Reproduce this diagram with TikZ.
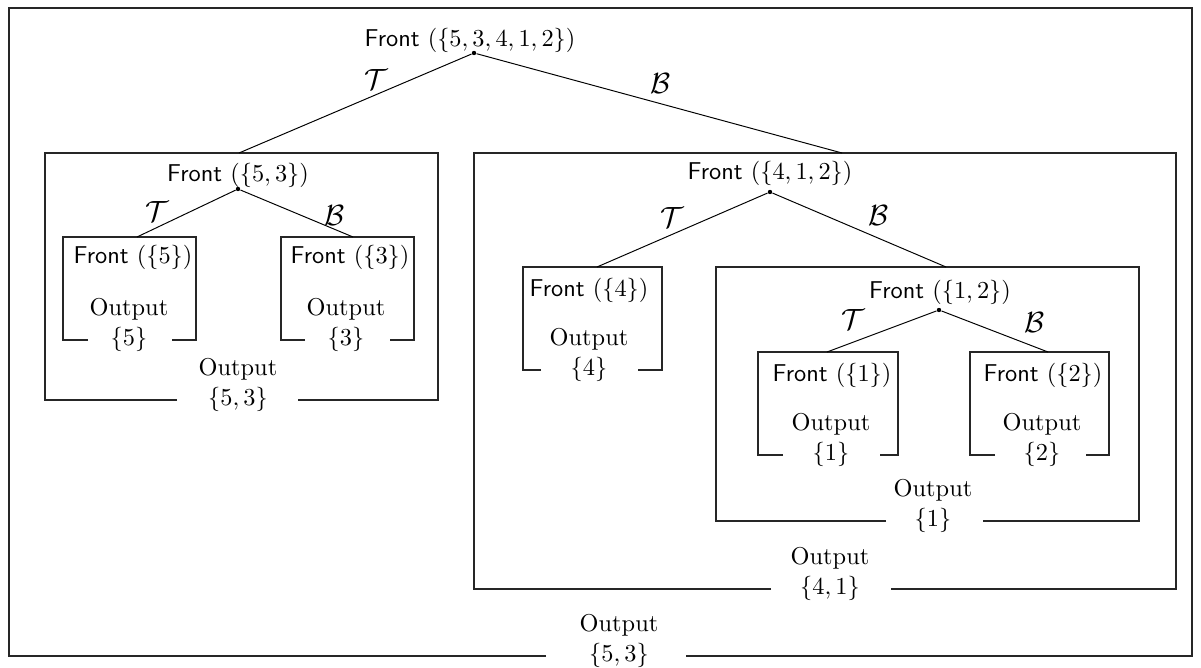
\documentclass[tikz,border=0pt]{standalone}
\begin{document}
% one unit = one dot of the final drawing grid; y grows downwards
\newcommand\gapbox[6]{% left, top, right, bottom, gap start, gap end
  \draw[frame] (#5,#4) -| (#1,#2) -| (#3,#4) -- (#6,#4);}
\begin{tikzpicture}[x=0.4105pt,y=-0.4105pt,
  front/.style={inner sep=0pt, anchor=center},
  outlbl/.style={align=center, inner sep=0pt, anchor=center},
  split/.style={circle, fill=black, inner sep=0pt, minimum size=1.8pt},
  edgelbl/.style={inner sep=0pt, anchor=center, font=\large},
  frame/.style={draw=black!85, line width=0.45pt},
  conn/.style={draw=black, line width=0.4pt}]
\useasboundingbox (0,0) rectangle (1201,668);

% ---- outer level: {5,3,4,1,2}
\gapbox{9}{8}{1192}{656}{546}{686}
\node[front] (fR) at (470,40) {\textsf{Front} $(\{5,3,4,1,2\})$};
\node[split] (sR) at (474,53) {};
\node[outlbl] (oR) at (619,641) {Output\\$\{5,3\}$};

% ---- left branch: {5,3}
\gapbox{45}{153}{438}{400}{177}{298}
\coordinate (tA) at (239,153);
\node[front] (fA) at (238,175) {\textsf{Front} $(\{5,3\})$};
\node[split] (sA) at (238,189) {};
\node[outlbl] (oA) at (238,385) {Output\\$\{5,3\}$};

\gapbox{63}{237}{196}{340}{88}{172}
\coordinate (tA1) at (137,237);
\node[front] (fA1) at (133,257) {\textsf{Front} $(\{5\})$};
\node[outlbl] (oA1) at (129,325) {Output\\$\{5\}$};

\gapbox{281}{237}{414}{340}{305}{390}
\coordinate (tA2) at (353,237);
\node[front] (fA2) at (350,257) {\textsf{Front} $(\{3\})$};
\node[outlbl] (oA2) at (346,325) {Output\\$\{3\}$};

% ---- right branch: {4,1,2}
\gapbox{474}{153}{1176}{589}{771}{891}
\coordinate (tB) at (842,153);
\node[front] (fB) at (770,173) {\textsf{Front} $(\{4,1,2\})$};
\node[split] (sB) at (770,192) {};
\node[outlbl] (oB) at (830,574) {Output\\$\{4,1\}$};

\gapbox{523}{267}{662}{370}{541}{638}
\coordinate (tB1) at (597,267);
\node[front] (fB1) at (589,290) {\textsf{Front} $(\{4\})$};
\node[outlbl] (oB1) at (589,355) {Output\\$\{4\}$};

\gapbox{716}{267}{1139}{521}{886}{983}
\coordinate (tB2) at (946,267);
\node[front] (fB2) at (940,292) {\textsf{Front} $(\{1,2\})$};
\node[split] (sB2) at (939,310) {};
\node[outlbl] (oB2) at (933,506) {Output\\$\{1\}$};

\gapbox{758}{352}{898}{455}{783}{880}
\coordinate (tB21) at (827,352);
\node[front] (fB21) at (832,375) {\textsf{Front} $(\{1\})$};
\node[outlbl] (oB21) at (831,440) {Output\\$\{1\}$};

\gapbox{970}{352}{1109}{455}{995}{1086}
\coordinate (tB22) at (1048,352);
\node[front] (fB22) at (1043,375) {\textsf{Front} $(\{2\})$};
\node[outlbl] (oB22) at (1042,440) {Output\\$\{2\}$};

% ---- branch connectors
\draw[conn] (sR) -- (tA);
\draw[conn] (sR) -- (tB);
\draw[conn] (sA) -- (tA1);
\draw[conn] (sA) -- (tA2);
\draw[conn] (sB) -- (tB1);
\draw[conn] (sB) -- (tB2);
\draw[conn] (sB2) -- (tB21);
\draw[conn] (sB2) -- (tB22);

% ---- branch labels
\node[edgelbl] (lRT) at (376,80) {$\mathcal{T}$};
\node[edgelbl] (lRB) at (661,84) {$\mathcal{B}$};
\node[edgelbl] (lAT) at (157,212) {$\mathcal{T}$};
\node[edgelbl] (lAB) at (335,216) {$\mathcal{B}$};
\node[edgelbl] (lBT) at (672,218) {$\mathcal{T}$};
\node[edgelbl] (lBB) at (879,216) {$\mathcal{B}$};
\node[edgelbl] (lB2T) at (853,320) {$\mathcal{T}$};
\node[edgelbl] (lB2B) at (1035,323) {$\mathcal{B}$};
\end{tikzpicture}
\end{document}
